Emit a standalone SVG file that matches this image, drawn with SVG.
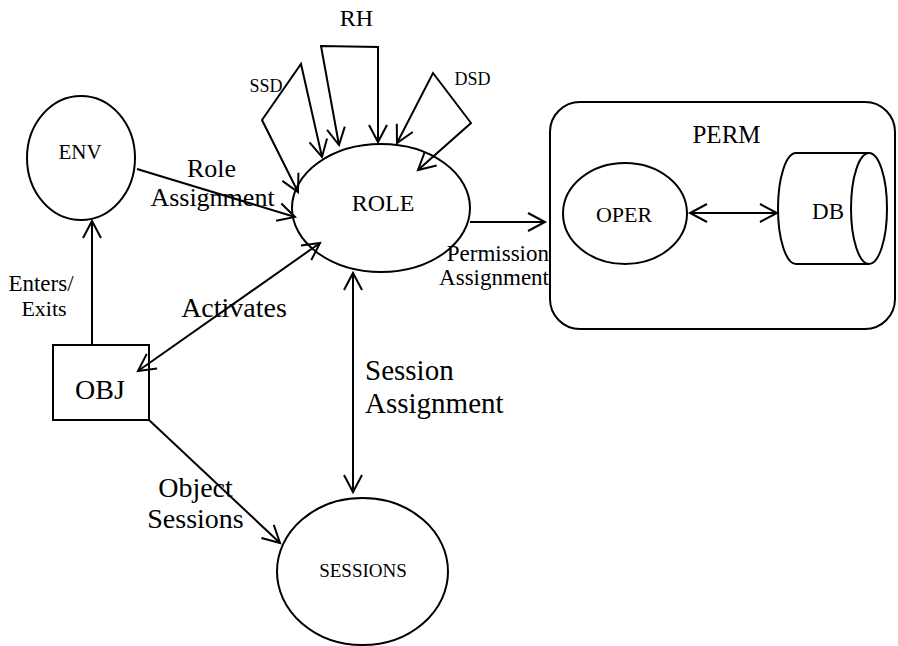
<svg xmlns="http://www.w3.org/2000/svg" width="898" height="646" viewBox="0 0 898 646">
  <defs>
    <style>
      .shape { fill: none; stroke: #000000; stroke-width: 2; }
      .edge { fill: none; stroke: #000000; stroke-width: 2; }
      text { font-family: "Liberation Serif", "Times New Roman", serif; fill: #000000; }
      .mid { text-anchor: middle; }
    </style>
    <marker id="head" viewBox="-20 -12 24 24" markerWidth="24" markerHeight="24" refX="0" refY="0" markerUnits="userSpaceOnUse" orient="auto-start-reverse">
      <path d="M-17,-9 L0,0 L-17,9" fill="none" stroke="#000000" stroke-width="2"/>
    </marker>
  </defs>
  <rect width="898" height="646" fill="#ffffff"/>

  <g id="env">
    <ellipse class="shape" cx="81" cy="158" rx="54" ry="62"/>
    <text x="80" y="159" font-size="21" class="mid">ENV</text>
  </g>

  <g id="role">
    <ellipse class="shape" cx="381" cy="208" rx="89" ry="64"/>
    <text x="383" y="211" font-size="24" class="mid">ROLE</text>
  </g>

  <g id="obj">
    <rect class="shape" x="53" y="345" width="96" height="75"/>
    <text x="100" y="399" font-size="28" class="mid">OBJ</text>
  </g>

  <g id="sessions">
    <ellipse class="shape" cx="362.5" cy="571.5" rx="85.5" ry="73.5"/>
    <text x="363" y="577" font-size="19" class="mid">SESSIONS</text>
  </g>

  <g id="perm">
    <rect class="shape" x="550" y="102" width="345" height="227" rx="30" ry="30"/>
    <text x="726.5" y="143" font-size="25" class="mid">PERM</text>
  </g>

  <g id="oper">
    <ellipse class="shape" cx="625" cy="213.5" rx="62" ry="50.5"/>
    <text x="624" y="222" font-size="22" class="mid">OPER</text>
  </g>

  <g id="db">
    <path class="shape" d="M869,153 L796,153 A18,55.5 0 0 0 796,264 L869,264"/>
    <ellipse class="shape" cx="869" cy="208.5" rx="18" ry="55.5"/>
    <text x="828" y="219" font-size="23" class="mid">DB</text>
  </g>

  <!-- connectors -->
  <g id="connectors">
    <!-- SSD, RH, DSD constraint loops onto ROLE -->
    <polyline class="edge" points="298,192 262,120 301,64 322,157" marker-start="url(#head)" marker-end="url(#head)"/>
    <polyline class="edge" points="339,145 321,46 378,47 378,142" marker-start="url(#head)" marker-end="url(#head)"/>
    <polyline class="edge" points="397,143 433,73 471,123 418,170" marker-start="url(#head)" marker-end="url(#head)"/>
    <!-- role assignment -->
    <line class="edge" x1="137" y1="169" x2="295" y2="217" marker-end="url(#head)"/>
    <!-- enters / exits -->
    <line class="edge" x1="92" y1="345" x2="92" y2="221" marker-end="url(#head)"/>
    <!-- activates -->
    <line class="edge" x1="138" y1="371" x2="320" y2="243" marker-start="url(#head)" marker-end="url(#head)"/>
    <!-- session assignment -->
    <line class="edge" x1="353" y1="273" x2="353" y2="492" marker-start="url(#head)" marker-end="url(#head)"/>
    <!-- object sessions -->
    <line class="edge" x1="149" y1="420" x2="280" y2="543" marker-end="url(#head)"/>
    <!-- permission assignment -->
    <line class="edge" x1="470" y1="222" x2="545" y2="222" marker-end="url(#head)"/>
    <!-- operation to database -->
    <line class="edge" x1="690" y1="213" x2="777" y2="213" marker-start="url(#head)" marker-end="url(#head)"/>
  </g>

  <!-- edge labels -->
  <g id="labels">
    <text x="266" y="92" font-size="18" class="mid">SSD</text>
    <text x="356.5" y="26" font-size="24" class="mid">RH</text>
    <text x="472.5" y="85" font-size="18" class="mid">DSD</text>
    <text x="211.5" y="177" font-size="26" class="mid">Role</text>
    <text x="212.5" y="206" font-size="26" class="mid">Assignment</text>
    <text x="549" y="261" font-size="23" text-anchor="end">Permission</text>
    <text x="549" y="285" font-size="23" text-anchor="end">Assignment</text>
    <text x="41" y="291" font-size="23" class="mid">Enters/</text>
    <text x="44" y="316" font-size="22" class="mid">Exits</text>
    <text x="234" y="317" font-size="28" class="mid">Activates</text>
    <text x="365" y="380" font-size="29">Session</text>
    <text x="365" y="413" font-size="29">Assignment</text>
    <text x="195.5" y="497" font-size="28" class="mid">Object</text>
    <text x="195.5" y="528" font-size="28" class="mid">Sessions</text>
  </g>
</svg>
